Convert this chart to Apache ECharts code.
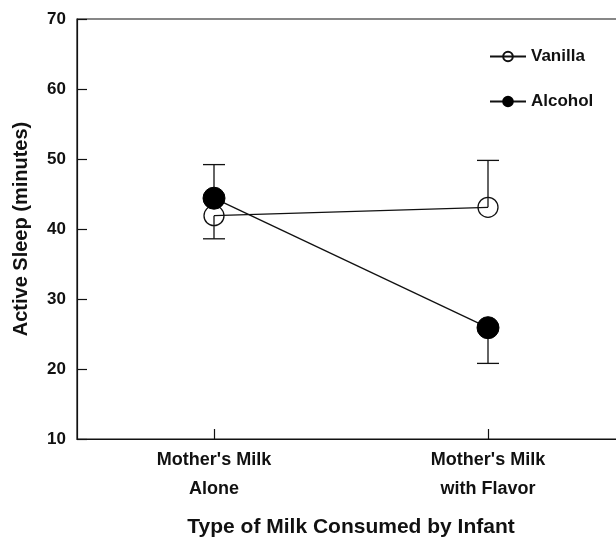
<!DOCTYPE html>
<html><head><meta charset="utf-8">
<script src="https://cdn.jsdelivr.net/npm/echarts@6/dist/echarts.min.js"></script>
<style>html,body{margin:0;padding:0;background:#fff}#c{width:616px;height:537px}</style>
</head><body><div id="c"></div>
<script>
const categories = ["Mother's Milk\nAlone", "Mother's Milk\nwith Flavor"];
const vanilla = [41.9, 43.1];
const alcohol = [44.4, 25.9];
// error bar ends (one-sided)
const vanillaErrEnd = [38.6, 49.8];
const alcoholErrEnd = [49.2, 20.8];
const yTicks = [10, 20, 30, 40, 50, 60, 70];

const FONT = 'Liberation Sans';
const errData = [];
vanilla.forEach((v, i) => errData.push([i, v, vanillaErrEnd[i]]));
alcohol.forEach((v, i) => errData.push([i, v, alcoholErrEnd[i]]));

const chart = echarts.init(document.getElementById('c'));
chart.setOption({
  animation: false,
  backgroundColor: '#fff',
  grid: { left: 77, right: -9, top: 19, bottom: 98, outerBoundsMode: 'none', containLabel: false,
          show: true, borderColor: '#111', borderWidth: 1.2, backgroundColor: 'transparent' },
  legend: {
    orient: 'vertical', left: 484, top: 43, itemGap: 28, itemWidth: 36, itemHeight: 12,
    textStyle: { fontFamily: FONT, fontWeight: 'bold', fontSize: 17, color: '#111' },
    data: ['Vanilla', 'Alcohol']
  },
  xAxis: {
    type: 'category', data: categories, boundaryGap: true,
    name: 'Type of Milk Consumed by Infant', nameLocation: 'middle', nameGap: 78,
    nameTextStyle: { fontFamily: FONT, fontWeight: 'bold', fontSize: 21, color: '#111' },
    axisLine: { lineStyle: { color: '#111', width: 1.2 } },
    axisTick: { show: true, inside: true, alignWithLabel: true, length: 10, lineStyle: { color: '#111', width: 1.2 } },
    axisLabel: { fontFamily: FONT, fontWeight: 'bold', fontSize: 18, color: '#111', lineHeight: 29, margin: 7 },
    splitLine: { show: false }
  },
  yAxis: {
    type: 'value', min: yTicks[0], max: yTicks[yTicks.length - 1], interval: 10,
    name: 'Active Sleep (minutes)', nameLocation: 'middle', nameGap: 46, nameRotate: 90,
    nameTextStyle: { fontFamily: FONT, fontWeight: 'bold', fontSize: 20, color: '#111' },
    axisLine: { show: true, lineStyle: { color: '#111', width: 1.2 } },
    axisTick: { show: true, inside: true, length: 10, lineStyle: { color: '#111', width: 1.2 } },
    axisLabel: { fontFamily: FONT, fontWeight: 'bold', fontSize: 17, color: '#111', margin: 11 },
    splitLine: { show: false }
  },
  series: [
    {
      type: 'custom', name: 'err', z: 1,
      renderItem: function (params, api) {
        const i = api.value(0);
        const p0 = api.coord([i, api.value(1)]);
        const p1 = api.coord([i, api.value(2)]);
        const hw = 11;
        const st = { stroke: '#111', lineWidth: 1.3 };
        return { type: 'group', children: [
          { type: 'line', shape: { x1: p0[0], y1: p0[1], x2: p1[0], y2: p1[1] }, style: st },
          { type: 'line', shape: { x1: p1[0] - hw, y1: p1[1], x2: p1[0] + hw, y2: p1[1] }, style: st }
        ]};
      },
      data: errData
    },
    {
      type: 'line', name: 'Vanilla', data: vanilla, z: 3,
      symbol: 'circle', symbolSize: 20,
      itemStyle: { color: 'rgba(255,255,255,0)', borderColor: '#111', borderWidth: 1.3 },
      lineStyle: { color: '#111', width: 1.3 }
    },
    {
      type: 'line', name: 'Alcohol', data: alcohol, z: 4,
      symbol: 'circle', symbolSize: 22,
      itemStyle: { color: '#000', borderColor: '#000', borderWidth: 1 },
      lineStyle: { color: '#111', width: 1.3 }
    }
  ]
});
</script></body></html>
